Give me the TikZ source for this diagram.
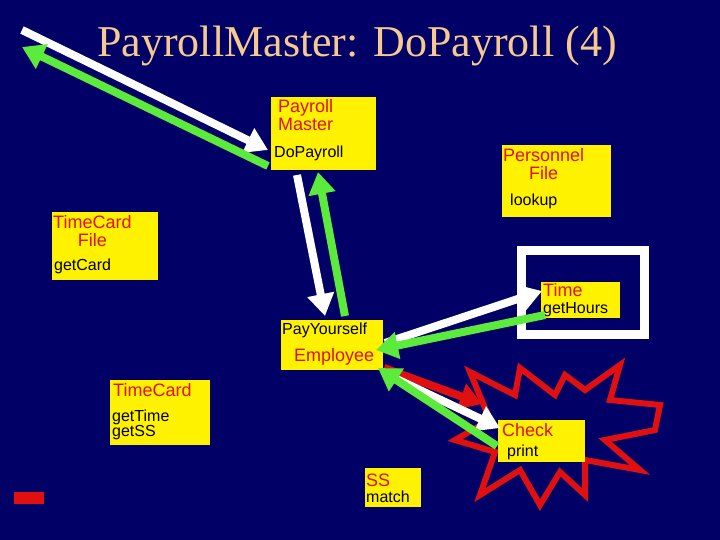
\documentclass[tikz,border=0pt]{standalone}
\usepackage{fontspec}
\setmainfont{Liberation Serif}
\setsansfont{Liberation Sans}
\usetikzlibrary{arrows.meta}
\definecolor{navy}{HTML}{000066}
\definecolor{titlecol}{HTML}{F5C98F}
\definecolor{lgreen}{HTML}{5CEB3C}
\definecolor{lred}{HTML}{E01010}

\begin{document}
\begin{tikzpicture}[x=1pt,y=-1pt,
    box/.style={fill=yellow, inner sep=0pt},
    lbl/.style={font=\sffamily\fontsize{18}{18}\selectfont, anchor=north west, inner sep=0pt, text depth=0pt},
    cls/.style={lbl, text=lred},
    meth/.style={lbl, text=black, font=\sffamily\fontsize{16}{15}\selectfont},
    flow/.style={line width=8pt, -{Triangle[length=22pt,width=26pt]}}]
    \fill[navy] (0,0) rectangle (720,540);
    \useasboundingbox (0,0) rectangle (720,540);
    \node[text=titlecol, font=\fontsize{44}{44}\selectfont] (title) at (357,46) {PayrollMaster: DoPayroll (4)};
    % the starburst round Check
    \draw[lred, line width=6pt, fill=navy] (660,405) -- (610,400) -- (620,365) -- (585,390) -- (565,375) -- (555,395)
        -- (520,368) -- (515,395) -- (470,372) -- (490,420) -- (455,440) -- (495,452) -- (480,495) -- (520,470)
        -- (540,505) -- (560,472) -- (585,495) -- (585,460) -- (640,470) -- (605,440) -- (655,430) -- cycle;
    % frame round Time
    \draw[white, line width=9pt] (521,250) rectangle (644,334);
    % boxes
    \fill[box] (271,97) rectangle (376,170);
    \node[cls, align=left] (pmname) at (278,99) {Payroll\\Master};
    \node[meth] (pmdo) at (274,146) {DoPayroll};
    \fill[box] (502,145) rectangle (611,217);
    \node[cls, align=center] (pfname) at (503,148) {Personnel\\File};
    \node[meth] (pflookup) at (510,194) {lookup};
    \fill[box] (52,212) rectangle (158,280);
    \node[cls, align=center] (tfname) at (53,215) {TimeCard\\File};
    \node[meth] (tfget) at (54,259) {getCard};
    \fill[box] (541,282) rectangle (620,318);
    \node[cls] (tname) at (543,283) {Time};
    \node[meth] (tget) at (543,302) {getHours};
    \fill[box] (281,320) rectangle (383,370);
    \node[meth] (epay) at (282,323) {PayYourself};
    \node[cls] (ename) at (294,348) {Employee};
    \fill[box] (110,380) rectangle (210,445);
    \node[cls] (tcname) at (113,383) {TimeCard};
    \node[meth, align=left] (tcget) at (112,410) {getTime\\getSS};
    \fill[box] (498,420) rectangle (585,462);
    \node[cls] (cname) at (502,423) {Check};
    \node[meth] (cprint) at (507,445) {print};
    \fill[box] (365,468) rectangle (421,507);
    \node[cls] (sname) at (366,474) {SS};
    \node[meth] (smatch) at (366,491) {match};
    \fill[lred] (14,492) rectangle (44,504);
    % messages
    \coordinate (caller) at (22,30);
    \coordinate (callback) at (22,47);
    \draw[flow, white] (caller) -- (268,150);
    \draw[flow, lgreen] (268,166) -- (callback);
    \draw[flow, white] (297,175) -- (325,316);
    \draw[flow, lgreen] (345,316) -- (318,172);
    \draw[flow, white] (385,343) -- (542,291);
    \draw[flow, lgreen] (545,315) -- (376,350);
    \draw[flow, lred] (384,368) -- (482,404);
    \draw[flow, white] (386,374) -- (500,428);
    \draw[flow, lgreen] (497,446) -- (378,368);
\end{tikzpicture}
\end{document}
